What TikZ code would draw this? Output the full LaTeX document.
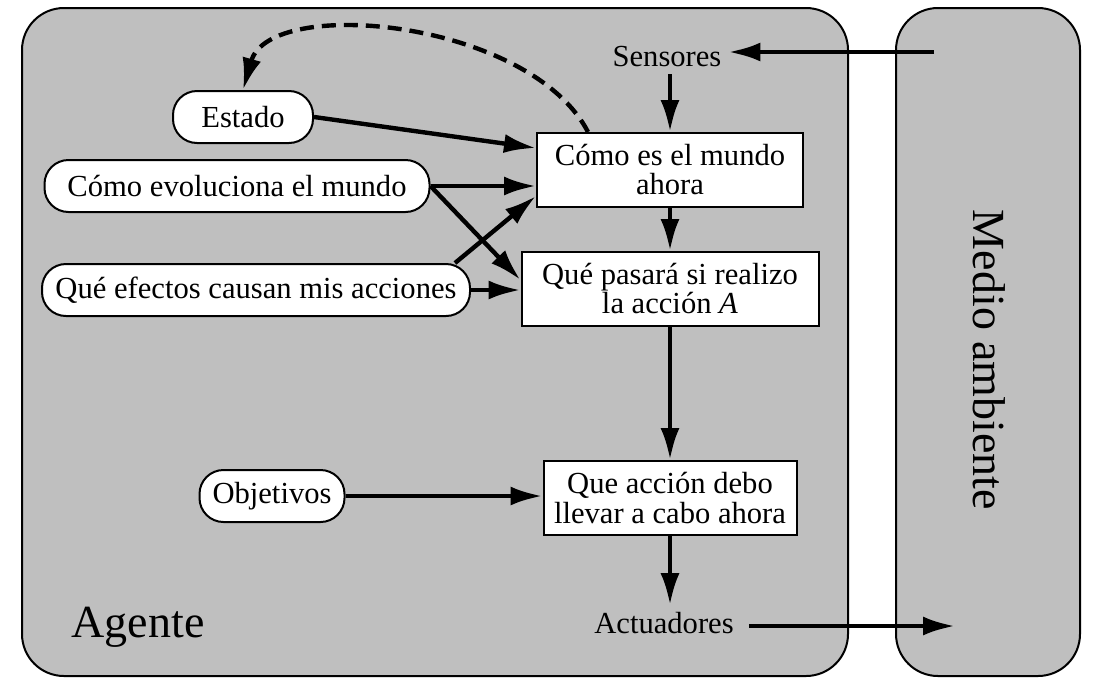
\documentclass[tikz,border=0pt]{standalone}
\usepackage{fontspec}
\setmainfont{Liberation Serif}
\usepackage{tikz}
\usetikzlibrary{
    arrows.meta,
    positioning
}
\definecolor{Mgris}{RGB}{191, 191, 191}
\tikzset{
    mamb/.style={
        rectangle, rounded corners=21pt, draw=black, line width=1.0pt,
        fill=Mgris
    },
    mpill/.style={
        rectangle, rounded corners=12pt, draw=black, line width=1.0pt,
        fill=white, minimum height=26pt, inner sep=2pt,
        font=\fontsize{15.3}{14.5}\selectfont
    },
    mcaja/.style={
        rectangle, draw=black, line width=1.0pt, fill=white,
        minimum height=37pt, align=center, inner sep=2pt,
        font=\fontsize{15.3}{14.5}\selectfont
    },
    mtexto/.style={font=\fontsize{15.3}{14.5}\selectfont},
    mtitulo/.style={font=\fontsize{23}{23}\selectfont},
    marr/.style={-{Latex[length=16pt, width=9.5pt]}, line width=2.2pt, black},
    mdash/.style={marr, dash pattern=on 7pt off 4pt},
}
\begin{document}
\begin{tikzpicture}[x=0.5pt, y=-0.5pt]

    \useasboundingbox (0,0) rectangle (1096,686);

    \node [mamb, minimum width=413pt, minimum height=334pt] (agente) at (435,342) {};
    \node [mamb, minimum width=92pt, minimum height=334pt] (medio) at (988,342) {};
    \node [mtitulo, anchor=base] (lagente) at (138,637) {Agente};
    \node [mtitulo, rotate=-90] (lmedio) at (989,360) {Medio ambiente};

    \node [mtexto] (sensores) at (667,57) {Sensores};
    \node [mcaja, minimum width=133pt] (cmundo) at (670,170)
        {Cómo es el mundo\\ahora};
    \node [mcaja, minimum width=148.5pt, below=21.5pt of cmundo]
        (pasara) {Qué pasará si realizo\\ la acción \textit{A}};
    \node [mcaja, minimum width=126.5pt, below=66.5pt of pasara]
        (accion) {Que acción debo\\llevar a cabo ahora};
    \node [mtexto] (actuadores) at (664,623) {Actuadores};

    \node [mpill, minimum width=70pt] (estado) at (243,117) {Estado};
    \node [mpill, minimum width=192.5pt] (evol) at (237,186) {Cómo evoluciona el mundo};
    \node [mpill, minimum width=214pt] (efectos) at (256,290) {Qué efectos causan mis acciones};
    \node [mpill, minimum width=72.5pt] (objetivos) at (272,496) {Objetivos};

    \coordinate (sensin) at (934,52);
    \coordinate (medioin) at (955,626);

    \draw [marr] (sensin) -- (sensin -| sensores.east);
    \draw [marr] (sensores.south -| cmundo.north) -- (cmundo.north);
    \draw [marr] (cmundo) -- (pasara);
    \draw [marr] (pasara) -- (accion);
    \draw [marr] (accion.south) -- (accion.south |- actuadores.north);
    \draw [marr] ([xshift=4pt]actuadores.east |- medioin) -- (medioin);

    \draw [marr] (estado.east) -- ([yshift=11pt]cmundo.west);
    \draw [marr] (evol.east) -- (evol.east -| cmundo.west);
    \draw [marr] (evol.east) -- ([yshift=4.5pt]pasara.west);
    \draw [marr] ([xshift=-8pt]efectos.north east) -- ([yshift=-13pt]cmundo.west);
    \draw [marr] (efectos.east) -- (efectos.east -| pasara.west);
    \draw [marr] (objetivos.east) -- (objetivos.east -| accion.west);

    \draw [mdash] ([xshift=-41pt]cmundo.north) .. controls (530,20) and (270,-5) .. (estado.north);

\end{tikzpicture}
\end{document}
